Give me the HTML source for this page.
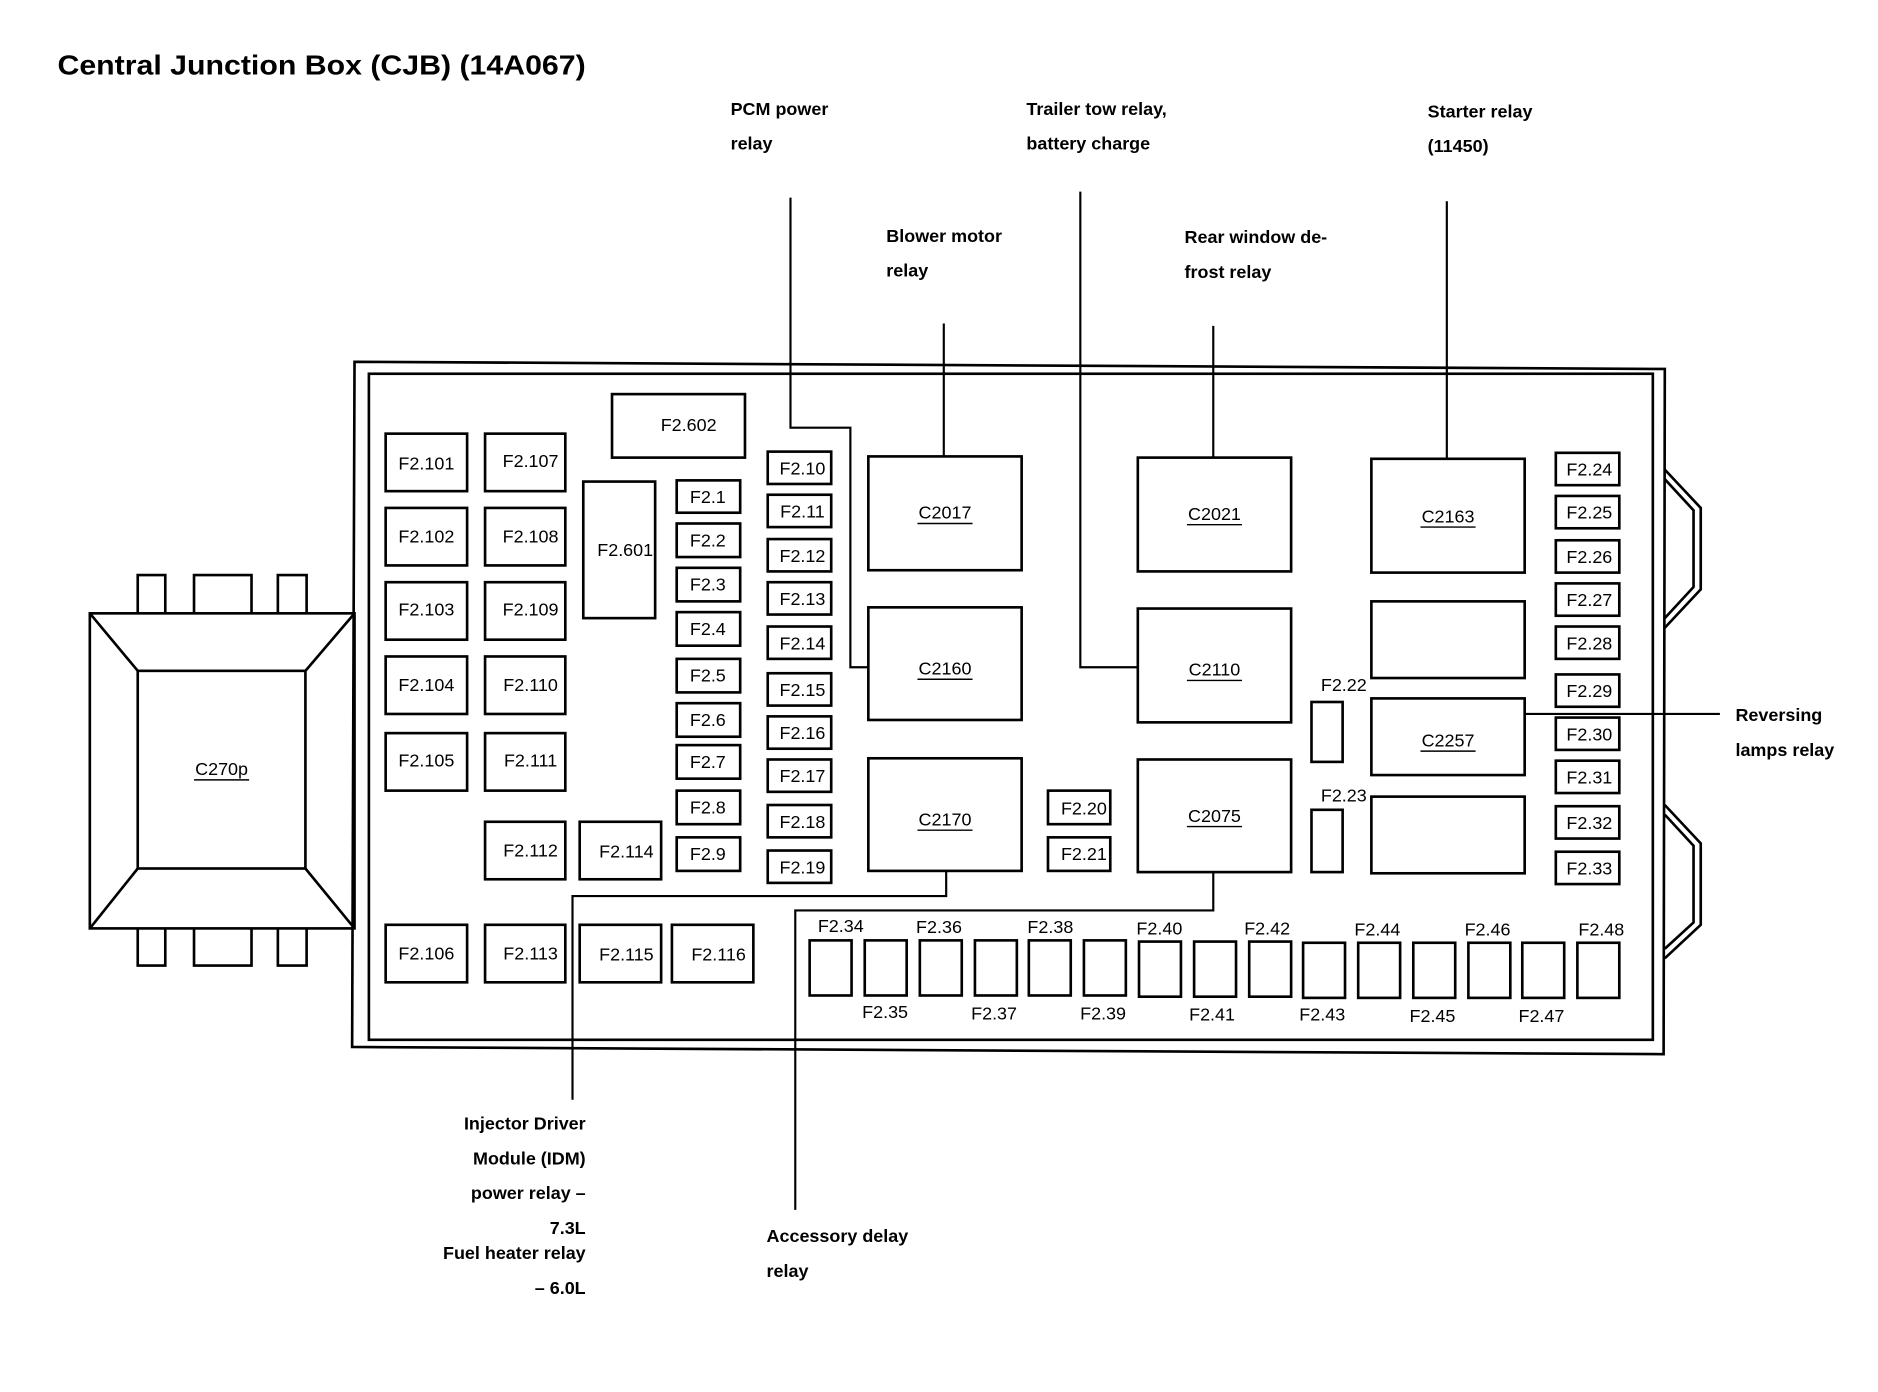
<!DOCTYPE html>
<html><head><meta charset="utf-8"><style>html,body{margin:0;padding:0;background:#fff}svg{display:block}</style></head>
<body>
<svg width="1878" height="1392" viewBox="0 0 1568 1162" preserveAspectRatio="none" xmlns="http://www.w3.org/2000/svg" font-family="Liberation Sans, sans-serif">
<g fill="none" stroke="#000" stroke-width="2.2">
<polygon points="296,302 1390,308 1389,880 294,874"/>
<rect x="308" y="312" width="1072" height="556"/>
<rect x="75" y="512" width="221" height="263"/>
<rect x="115" y="560" width="140" height="165"/>
<line x1="75" y1="512" x2="115" y2="560"/><line x1="296" y1="512" x2="255" y2="560"/>
<line x1="75" y1="775" x2="115" y2="725"/><line x1="296" y1="775" x2="255" y2="725"/>
<polyline points="115,512 115,480 138,480 138,512"/><polyline points="162,512 162,480 210,480 210,512"/><polyline points="232,512 232,480 256,480 256,512"/>
<polyline points="115,775 115,806 138,806 138,775"/><polyline points="162,775 162,806 210,806 210,775"/><polyline points="232,775 232,806 256,806 256,775"/>
<polyline points="1390,392 1420,424 1420,492 1390,524"/><polyline points="1390,400 1414,426 1414,490 1390,516"/>
<polyline points="1390,672 1420,704 1420,772 1390,800"/><polyline points="1390,680 1414,706 1414,770 1390,792"/>
<rect x="322" y="362" width="68" height="48"/><rect x="322" y="424" width="68" height="48"/><rect x="322" y="486" width="68" height="48"/><rect x="322" y="548" width="68" height="48"/><rect x="322" y="612" width="68" height="48"/><rect x="322" y="772" width="68" height="48"/>
<rect x="405" y="362" width="67" height="48"/><rect x="405" y="424" width="67" height="48"/><rect x="405" y="486" width="67" height="48"/><rect x="405" y="548" width="67" height="48"/><rect x="405" y="612" width="67" height="48"/><rect x="405" y="686" width="67" height="48"/><rect x="405" y="772" width="67" height="48"/>
<rect x="487" y="402" width="60" height="114"/><rect x="511" y="329" width="111" height="53"/>
<rect x="484" y="686" width="68" height="48"/><rect x="484" y="772" width="68" height="48"/><rect x="561" y="772" width="68" height="48"/>
<rect x="565" y="401" width="53" height="27"/><rect x="565" y="437" width="53" height="28"/><rect x="565" y="474" width="53" height="28"/><rect x="565" y="511" width="53" height="28"/><rect x="565" y="550" width="53" height="28"/><rect x="565" y="587" width="53" height="28"/><rect x="565" y="622" width="53" height="28"/><rect x="565" y="660" width="53" height="28"/><rect x="565" y="699" width="53" height="28"/>
<rect x="641" y="377" width="53" height="27"/><rect x="641" y="413" width="53" height="27"/><rect x="641" y="450" width="53" height="27"/><rect x="641" y="486" width="53" height="27"/><rect x="641" y="523" width="53" height="27"/><rect x="641" y="562" width="53" height="27"/><rect x="641" y="598" width="53" height="27"/><rect x="641" y="634" width="53" height="27"/><rect x="641" y="672" width="53" height="27"/><rect x="641" y="710" width="53" height="27"/>
<rect x="725" y="381" width="128" height="95"/><rect x="725" y="507" width="128" height="94"/><rect x="725" y="633" width="128" height="94"/>
<rect x="950" y="382" width="128" height="95"/><rect x="950" y="508" width="128" height="95"/><rect x="950" y="634" width="128" height="94"/>
<rect x="1145" y="383" width="128" height="95"/><rect x="1145" y="502" width="128" height="64"/><rect x="1145" y="583" width="128" height="64"/><rect x="1145" y="665" width="128" height="64"/>
<rect x="875" y="660" width="52" height="28"/><rect x="875" y="699" width="52" height="28"/>
<rect x="1095" y="586" width="26" height="50"/><rect x="1095" y="676" width="26" height="52"/>
<rect x="1299" y="378" width="53" height="27"/><rect x="1299" y="414" width="53" height="27"/><rect x="1299" y="451" width="53" height="27"/><rect x="1299" y="487" width="53" height="27"/><rect x="1299" y="523" width="53" height="27"/><rect x="1299" y="563" width="53" height="27"/><rect x="1299" y="599" width="53" height="27"/><rect x="1299" y="635" width="53" height="27"/><rect x="1299" y="673" width="53" height="27"/><rect x="1299" y="711" width="53" height="27"/>
<rect x="676" y="785" width="35" height="46"/><rect x="722" y="785" width="35" height="46"/><rect x="768" y="785" width="35" height="46"/><rect x="814" y="785" width="35" height="46"/><rect x="859" y="785" width="35" height="46"/><rect x="905" y="785" width="35" height="46"/><rect x="951" y="786" width="35" height="46"/><rect x="997" y="786" width="35" height="46"/><rect x="1043" y="786" width="35" height="46"/><rect x="1088" y="787" width="35" height="46"/><rect x="1134" y="787" width="35" height="46"/><rect x="1180" y="787" width="35" height="46"/><rect x="1226" y="787" width="35" height="46"/><rect x="1271" y="787" width="35" height="46"/><rect x="1317" y="787" width="35" height="46"/>
</g>
<g fill="none" stroke="#000" stroke-width="1.8">
<polyline points="660,165 660,357 710,357 710,557 725,557"/>
<line x1="788" y1="270" x2="788" y2="381"/>
<polyline points="902,160 902,557 950,557"/>
<line x1="1013" y1="272" x2="1013" y2="382"/>
<line x1="1208" y1="168" x2="1208" y2="383"/>
<line x1="1273" y1="596" x2="1436" y2="596"/>
<polyline points="790,727 790,748 478,748 478,918"/>
<polyline points="1013,728 1013,760 664,760 664,1010"/>
</g>
<g font-size="15" text-anchor="middle" fill="#000">
<text x="356" y="392">F2.101</text><text x="356" y="453">F2.102</text><text x="356" y="514">F2.103</text><text x="356" y="577">F2.104</text><text x="356" y="640">F2.105</text><text x="356" y="801">F2.106</text>
<text x="443" y="390">F2.107</text><text x="443" y="453">F2.108</text><text x="443" y="514">F2.109</text><text x="443" y="577">F2.110</text><text x="443" y="640">F2.111</text><text x="443" y="715">F2.112</text><text x="443" y="801">F2.113</text>
<text x="522" y="464">F2.601</text><text x="575" y="360">F2.602</text>
<text x="523" y="716">F2.114</text><text x="523" y="802">F2.115</text><text x="600" y="802">F2.116</text>
<text x="591" y="420">F2.1</text><text x="591" y="456">F2.2</text><text x="591" y="493">F2.3</text><text x="591" y="530">F2.4</text><text x="591" y="569">F2.5</text><text x="591" y="606">F2.6</text><text x="591" y="641">F2.7</text><text x="591" y="679">F2.8</text><text x="591" y="718">F2.9</text>
<text x="670" y="396">F2.10</text><text x="670" y="432">F2.11</text><text x="670" y="469">F2.12</text><text x="670" y="505">F2.13</text><text x="670" y="542">F2.14</text><text x="670" y="581">F2.15</text><text x="670" y="617">F2.16</text><text x="670" y="653">F2.17</text><text x="670" y="691">F2.18</text><text x="670" y="729">F2.19</text>
<text x="905" y="680">F2.20</text><text x="905" y="718">F2.21</text>
<text x="1122" y="577">F2.22</text><text x="1122" y="669">F2.23</text>
<text x="1327" y="397">F2.24</text><text x="1327" y="433">F2.25</text><text x="1327" y="470">F2.26</text><text x="1327" y="506">F2.27</text><text x="1327" y="542">F2.28</text><text x="1327" y="582">F2.29</text><text x="1327" y="618">F2.30</text><text x="1327" y="654">F2.31</text><text x="1327" y="692">F2.32</text><text x="1327" y="730">F2.33</text>
<text x="702" y="778">F2.34</text><text x="784" y="779">F2.36</text><text x="877" y="779">F2.38</text><text x="968" y="780">F2.40</text><text x="1058" y="780">F2.42</text><text x="1150" y="781">F2.44</text><text x="1242" y="781">F2.46</text><text x="1337" y="781">F2.48</text>
<text x="739" y="850">F2.35</text><text x="830" y="851">F2.37</text><text x="921" y="851">F2.39</text><text x="1012" y="852">F2.41</text><text x="1104" y="852">F2.43</text><text x="1196" y="853">F2.45</text><text x="1287" y="853">F2.47</text>
<text x="789" y="433">C2017</text><text x="789" y="563">C2160</text><text x="789" y="689">C2170</text>
<text x="1014" y="434">C2021</text><text x="1014" y="564">C2110</text><text x="1014" y="686">C2075</text>
<text x="1209" y="436">C2163</text><text x="1209" y="623">C2257</text>
<text x="185" y="647">C270p</text>
</g>
<g stroke="#000" stroke-width="1.2">
<line x1="766" y1="437" x2="812" y2="437"/><line x1="766" y1="567" x2="812" y2="567"/><line x1="766" y1="693" x2="812" y2="693"/>
<line x1="991" y1="438" x2="1037" y2="438"/><line x1="991" y1="568" x2="1037" y2="568"/><line x1="991" y1="690" x2="1037" y2="690"/>
<line x1="1186" y1="440" x2="1232" y2="440"/><line x1="1186" y1="627" x2="1232" y2="627"/>
<line x1="162" y1="651" x2="208" y2="651"/>
</g>
<g font-size="15" font-weight="bold" fill="#000">
<text x="48" y="62" font-size="23" textLength="441" lengthAdjust="spacingAndGlyphs">Central Junction Box (CJB) (14A067)</text>
<text x="610" y="96">PCM power</text><text x="610" y="125">relay</text>
<text x="857" y="96">Trailer tow relay,</text><text x="857" y="125">battery charge</text>
<text x="1192" y="98">Starter relay</text><text x="1192" y="127">(11450)</text>
<text x="740" y="202">Blower motor</text><text x="740" y="231">relay</text>
<text x="989" y="203">Rear window de-</text><text x="989" y="232">frost relay</text>
<text x="1449" y="602">Reversing</text><text x="1449" y="631">lamps relay</text>
<text x="640" y="1037">Accessory delay</text><text x="640" y="1066">relay</text>
<g text-anchor="end">
<text x="489" y="943">Injector Driver</text><text x="489" y="972">Module (IDM)</text><text x="489" y="1001">power relay –</text><text x="489" y="1030">7.3L</text><text x="489" y="1051">Fuel heater relay</text><text x="489" y="1080">– 6.0L</text>
</g>
</g>
</svg>
</body></html>
